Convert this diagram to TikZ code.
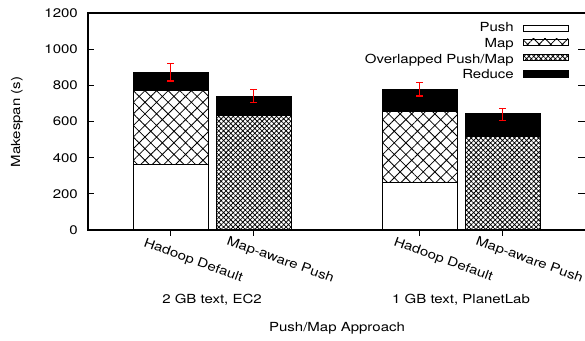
\documentclass[tikz,border=0pt]{standalone}
\usepackage{fontspec}
\setmainfont{TeX Gyre Heros}
\usetikzlibrary{patterns.meta}

% slightly widened text, as gnuplot sets it
\newcommand{\wtext}[1]{\scalebox{1.2}[1]{#1}}

\begin{document}
\begin{tikzpicture}[x=1pt, y=1pt,
    lbl/.style={font=\fontsize{12.5}{15}\selectfont, inner sep=0pt},
    seg/.style={draw=black, line width=0.8pt},
    coarse/.style={seg, pattern={Hatch[angle=45, distance=8.2pt, line width=0.8pt]}, pattern color=black},
    fine/.style={seg, pattern={Hatch[angle=45, distance=3.4pt, line width=0.75pt]}, pattern color=black},
    errbar/.style={red, line width=1.1pt}]

  % page background
  \fill[white] (0,0) rectangle (585,340);
  \useasboundingbox (0,0) rectangle (585,340);

  % bars, in data units (0..1200)
  \begin{scope}[shift={(0,110)}, y=0.180833pt]
    % Hadoop Default: push, map, reduce
    \foreach \x/\p/\m/\r in {133/361/770/872, 382/262/654/778} {
      \draw[seg, fill=white] (\x,0) rectangle ++(75,\p);
      \draw[coarse] (\x,\p) rectangle (\x+75,\m);
      \draw[seg, fill=black] (\x,\m) rectangle (\x+75,\r);
    }
    % Map-aware Push: overlapped push/map, reduce
    \foreach \x/\o/\r in {216/636/741, 465/516/643} {
      \draw[fine] (\x,0) rectangle ++(75,\o);
      \draw[seg, fill=black] (\x,\o) rectangle (\x+75,\r);
    }
    % error bars
    \foreach \x/\lo/\hi in {170.5/824/922, 253.5/704/778, 419.5/741/815, 502.5/608/673} {
      \draw[errbar] (\x,\lo) -- (\x,\hi);
      \draw[errbar] (\x-3.5,\lo) -- ++(7,0);
      \draw[errbar] (\x-3.5,\hi) -- ++(7,0);
    }
    % y ticks and labels
    \foreach \v in {0,200,...,1200} {
      \draw[line width=0.9pt] (88,\v) -- ++(6,0);
      \draw[line width=0.9pt] (585,\v) -- ++(-7,0);
      \node[lbl, anchor=east] (y\v) at (78,\v) {\wtext{\v}};
    }
  \end{scope}

  % frame
  \draw[line width=1.3pt] (585,327) -- (88,327) -- (88,110) -- (585,110);

  % x ticks
  \foreach \t in {170.5,253.5,419.5,502.5}
    \draw[line width=0.9pt] (\t,110) -- (\t,104);

  % x tick labels
  \node[lbl, rotate=-20, anchor=base west] (hd1) at (143,94) {\wtext{Hadoop Default}};
  \node[lbl, rotate=-20, anchor=base west] (mp1) at (226,96) {\wtext{Map-aware Push}};
  \node[lbl, rotate=-20, anchor=base west] (hd2) at (393,95) {\wtext{Hadoop Default}};
  \node[lbl, rotate=-20, anchor=base west] (mp2) at (475,96) {\wtext{Map-aware Push}};

  % group labels and axis titles
  \node[lbl, anchor=base] (g1) at (212,37) {\wtext{2 GB text, EC2}};
  \node[lbl, anchor=base] (g2) at (461,37) {\wtext{1 GB text, PlanetLab}};
  \node[lbl, anchor=base] (xlab) at (337,9) {\wtext{Push/Map Approach}};
  \node[lbl, rotate=90] (ylab) at (17,218) {\wtext{Makespan (s)}};

  % legend
  \node[lbl, anchor=base east] (kpush) at (514,308) {\wtext{Push}};
  \node[lbl, anchor=base east] (kmap) at (514,292.3) {\wtext{Map}};
  \node[lbl, anchor=base east] (kover) at (514,276.7) {\wtext{Overlapped Push/Map}};
  \node[lbl, anchor=base east] (kred) at (514,261.7) {\wtext{Reduce}};
  \draw[seg, fill=white] (523,309) rectangle (568,315);
  \draw[coarse] (523,295) rectangle (568,301);
  \draw[fine] (523,280) rectangle (568,285.7);
  \draw[seg, fill=black] (523,262.3) rectangle (568,270);
\end{tikzpicture}
\end{document}
